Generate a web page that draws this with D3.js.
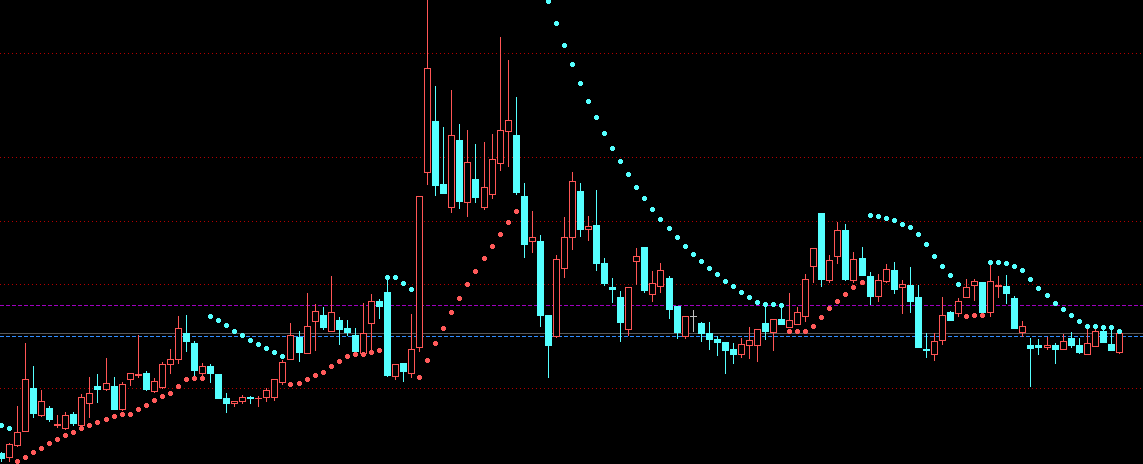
<!DOCTYPE html>
<html><head><meta charset="utf-8">
<script src="https://cdn.jsdelivr.net/npm/d3@7"></script>
<style>html,body{margin:0;padding:0;background:#000;overflow:hidden}</style>
</head><body><svg id="chart" width="1143" height="464"></svg>
<script>
const open = [4.7,4.3,5.5,6.9,11.2,8.5,9.2,7.5,7.2,8.6,
7.5,9.7,11.4,11.1,11.4,9.1,12.1,12.55,12.7,10.9,
11.3,13.6,14.1,16.7,15.7,12.7,13.4,12.6,10.2,9.7,
9.9,10.35,10.2,10.3,10.3,11.8,14.1,16.3,14.7,17.9,
18.5,16.9,18.0,17.2,16.5,14.7,17.7,19.9,20.8,12.4,
13.7,12.7,15.3,32.8,37.9,31.6,29.3,36.0,29.8,32.1,
29.3,30.6,33.7,36.9,36.5,30.4,25.9,25.9,18.5,16.4,
23.2,26.3,30.9,27.1,27.5,23.7,21.3,20.3,17.1,23.9,
25.3,20.6,21.4,22.2,19.4,16.4,18.4,17.7,16.7,16.1,
15.8,15.1,14.6,15.5,15.5,17.7,16.8,18.1,17.3,17.6,
18.4,23.4,28.7,22.0,24.4,27.0,22.0,24.2,22.4,20.4,
21.9,23.0,21.3,21.5,20.3,15.15,14.6,16.0,18.8,18.7,
20.3,21.5,21.8,18.8,21.45,21.4,20.2,16.8,15.5,15.5,
15.3,15.5,15.1,16.2,15.5,14.6,15.4,16.9,15.6,14.8];

const high = [4.8,5.7,9.4,15.7,13.4,11.0,9.4,8.5,8.8,8.8,
10.6,12.3,12.6,14.2,12.3,11.8,12.7,16.5,12.9,12.2,
13.8,15.1,18.4,18.5,15.9,13.7,13.6,12.6,10.7,9.9,
10.5,10.4,10.4,11.2,12.1,14.0,17.7,16.9,20.7,19.6,
19.3,22.4,18.3,18.0,17.2,19.7,20.6,20.1,22.1,13.6,
13.7,18.6,30.4,50.5,41.4,37.3,41.0,37.6,37.0,35.6,
35.8,36.6,46.3,44.0,40.3,31.7,28.9,26.5,18.5,24.5,
28.3,32.8,31.7,28.4,31.0,24.2,22.2,20.9,21.3,25.2,
25.3,22.9,23.7,22.4,19.4,18.4,19.0,17.8,17.8,16.4,
15.8,15.7,16.2,17.3,17.1,19.6,18.1,19.4,20.7,19.3,
22.6,25.2,28.7,24.5,27.8,27.6,24.8,25.3,22.8,22.6,
23.6,23.8,22.0,23.3,21.5,16.7,16.7,20.3,18.9,20.2,
22.1,22.1,21.8,23.6,22.4,22.5,20.4,17.9,16.2,16.1,
16.3,15.7,16.6,16.8,16.2,17.2,17.2,17.2,17.0,16.7];

const low = [3.9,3.9,5.4,6.9,8.3,8.4,7.9,7.3,7.1,7.5,
7.4,8.3,9.8,11.0,9.1,9.0,11.5,12.3,11.0,10.8,
11.2,12.7,13.7,14.9,12.3,12.4,11.8,10.2,8.8,9.4,
9.7,9.7,9.4,9.9,10.0,11.6,14.1,13.9,14.7,15.0,
17.1,16.9,15.6,16.5,14.9,14.7,15.0,18.2,12.4,12.1,
11.9,12.3,14.9,31.6,30.5,30.7,28.8,29.2,28.4,29.8,
29.1,30.2,33.0,33.4,30.6,24.3,24.8,17.4,12.3,16.3,
22.3,25.1,26.4,26.0,23.0,21.5,19.8,15.9,16.5,21.6,
20.8,19.9,20.8,18.2,16.2,16.2,16.9,15.9,15.1,14.5,
12.7,13.7,14.3,14.2,13.9,16.1,15.0,17.6,17.3,17.6,
17.9,21.8,21.4,21.8,23.7,22.0,21.8,22.5,19.6,19.9,
21.8,20.7,18.7,18.8,15.3,14.3,14.0,15.6,18.0,18.4,
20.3,20.0,18.8,18.4,20.3,19.7,17.2,16.4,11.4,14.6,
15.1,13.7,15.1,15.3,14.7,14.6,15.4,15.8,15.0,14.7];

const close = [4.2,5.6,6.8,12.1,8.7,9.9,8.1,7.6,8.5,7.7,
10.3,10.7,11.1,11.7,9.1,11.6,12.7,12.65,11.1,11.9,
13.6,14.1,17.2,15.9,13.0,13.4,12.7,10.2,9.7,9.9,
10.3,10.25,10.25,11.0,12.1,13.8,16.5,14.8,17.4,18.9,
17.3,18.8,17.1,16.8,14.9,16.7,19.9,19.4,12.5,13.6,
12.9,15.1,30.4,43.2,31.5,30.7,36.5,29.9,33.8,30.3,
31.3,34.1,37.0,38.0,30.8,25.6,26.3,18.5,15.5,24.1,
26.3,31.9,27.1,27.4,23.7,21.7,21.1,17.8,21.3,24.4,
21.0,21.7,23.0,19.1,16.8,18.4,18.4,16.7,16.1,15.8,
15.0,14.6,15.6,16.0,17.1,16.9,18.1,17.6,18.0,18.8,
22.1,25.2,22.1,24.0,27.0,22.1,24.1,22.5,20.4,22.0,
23.1,21.1,21.6,19.9,15.3,15.05,15.9,18.5,18.0,19.9,
21.3,21.9,18.8,21.9,21.55,20.7,17.2,17.4,15.2,15.3,
15.5,15.1,15.9,15.5,14.8,15.7,16.9,15.8,15.0,16.7];

const sar = [7.5,7.2,3.9,4.3,4.8,5.2,5.7,6.1,6.5,6.8,
7.2,7.5,7.8,8.1,8.4,8.6,8.6,9.1,9.5,10.0,
10.4,10.7,11.4,12.1,12.2,12.2,18.4,18.0,17.5,16.9,
16.5,16.0,15.6,15.2,14.8,14.4,11.6,11.7,12.1,12.5,
12.8,13.4,13.9,14.4,14.6,14.6,14.8,15.0,22.3,22.3,
21.7,21.1,12.3,14.0,15.7,17.2,18.8,20.2,21.6,22.9,
24.2,25.4,26.6,27.8,28.9,57.0,54.5,52.2,49.9,47.7,
45.5,43.6,41.7,39.9,38.3,36.7,35.2,33.9,32.6,31.3,
30.2,29.1,28.1,27.2,26.3,25.4,24.6,23.9,23.2,22.6,
21.9,21.4,20.8,20.3,19.8,19.6,19.6,19.5,16.9,16.9,
16.9,17.4,18.3,19.2,19.9,20.6,21.3,21.8,28.5,28.4,
28.2,28.0,27.6,27.3,26.6,25.6,24.4,23.4,22.5,21.6,
18.4,18.5,18.5,23.8,23.8,23.7,23.4,23.0,22.1,21.2,
20.5,19.7,19.1,18.5,17.9,17.4,17.4,17.3,17.3,16.9];

// horizontal levels (prices)
const dottedLevels = [44.7, 34.3, 27.9, 21.6, 11.2];
const magentaLevels = [19.5];
const grayLevels = [16.7];
const blueLevels = [16.4];

const W = 1143, H = 464;
const N = open.length;
const bars = d3.range(N);
const CYAN = "#55ffff", RED = "#ff5555", GRAY = "#c0c0c0";
const DOT_RED = "#ff5a5a", DOT_CYAN = "#55ffff";

const x = d3.scaleLinear().domain([0, N - 1]).range([-2.04, 1115.9]);
const y = d3.scaleLinear().domain([50, 3.6]).range([0, H]);

const svg = d3.select("#chart");
svg.append("rect").attr("width", W).attr("height", H).attr("fill", "#000");

function levelLines(vals, color, dash) {
  svg.append("g").selectAll("line").data(vals).join("line")
    .attr("x1", 0).attr("x2", W)
    .attr("y1", d => Math.round(y(d)) + 0.5).attr("y2", d => Math.round(y(d)) + 0.5)
    .attr("stroke", color).attr("stroke-width", 1)
    .attr("stroke-dasharray", dash)
    .attr("shape-rendering", "crispEdges");
}
levelLines(dottedLevels, "#b40000", "1,3");
levelLines(magentaLevels, "#a000c0", "4,2");
levelLines(grayLevels, "#585858", null);
levelLines(blueLevels, "#2f8cff", "4,2");

const cg = svg.append("g").attr("shape-rendering", "crispEdges");
cg.selectAll("g").data(bars).join("g").each(function (i) {
  const sel = d3.select(this);
  const o = open[i], c = close[i], h = high[i], l = low[i];
  const col = c > o ? RED : (c < o ? CYAN : GRAY);
  const left = Math.round(x(i));
  const cx = left + 3.5;
  const yt = Math.round(y(Math.max(o, c))), yb = Math.round(y(Math.min(o, c)));
  sel.append("line").attr("x1", cx).attr("x2", cx)
    .attr("y1", Math.round(y(h))).attr("y2", Math.round(y(l)) + 1)
    .attr("stroke", col);
  if (yb - yt < 1) {
    sel.append("line").attr("x1", left).attr("x2", left + 7)
      .attr("y1", yt + 0.5).attr("y2", yt + 0.5).attr("stroke", col);
  } else if (c > o) {
    sel.append("rect").attr("x", left + 0.5).attr("y", yt + 0.5)
      .attr("width", 6).attr("height", yb - yt)
      .attr("fill", "#000").attr("stroke", col);
  } else {
    sel.append("rect").attr("x", left).attr("y", yt)
      .attr("width", 7).attr("height", yb - yt + 1).attr("fill", col);
  }
});

// SAR dots: small pixel crosses (5x5 with cut corners)
function dotPath(i) {
  const cx = Math.round(x(i)) + 3;      // centre pixel column
  const cy = Math.round(y(sar[i]));     // centre pixel row
  return `M${cx - 1},${cy - 2}h3v1h1v3h-1v1h-3v-1h-1v-3h1z`;
}
svg.append("g").attr("shape-rendering", "crispEdges")
  .selectAll("path").data(bars).join("path")
  .attr("d", dotPath)
  .attr("fill", i => sar[i] > close[i] ? DOT_CYAN : DOT_RED);
</script>
</body></html>
